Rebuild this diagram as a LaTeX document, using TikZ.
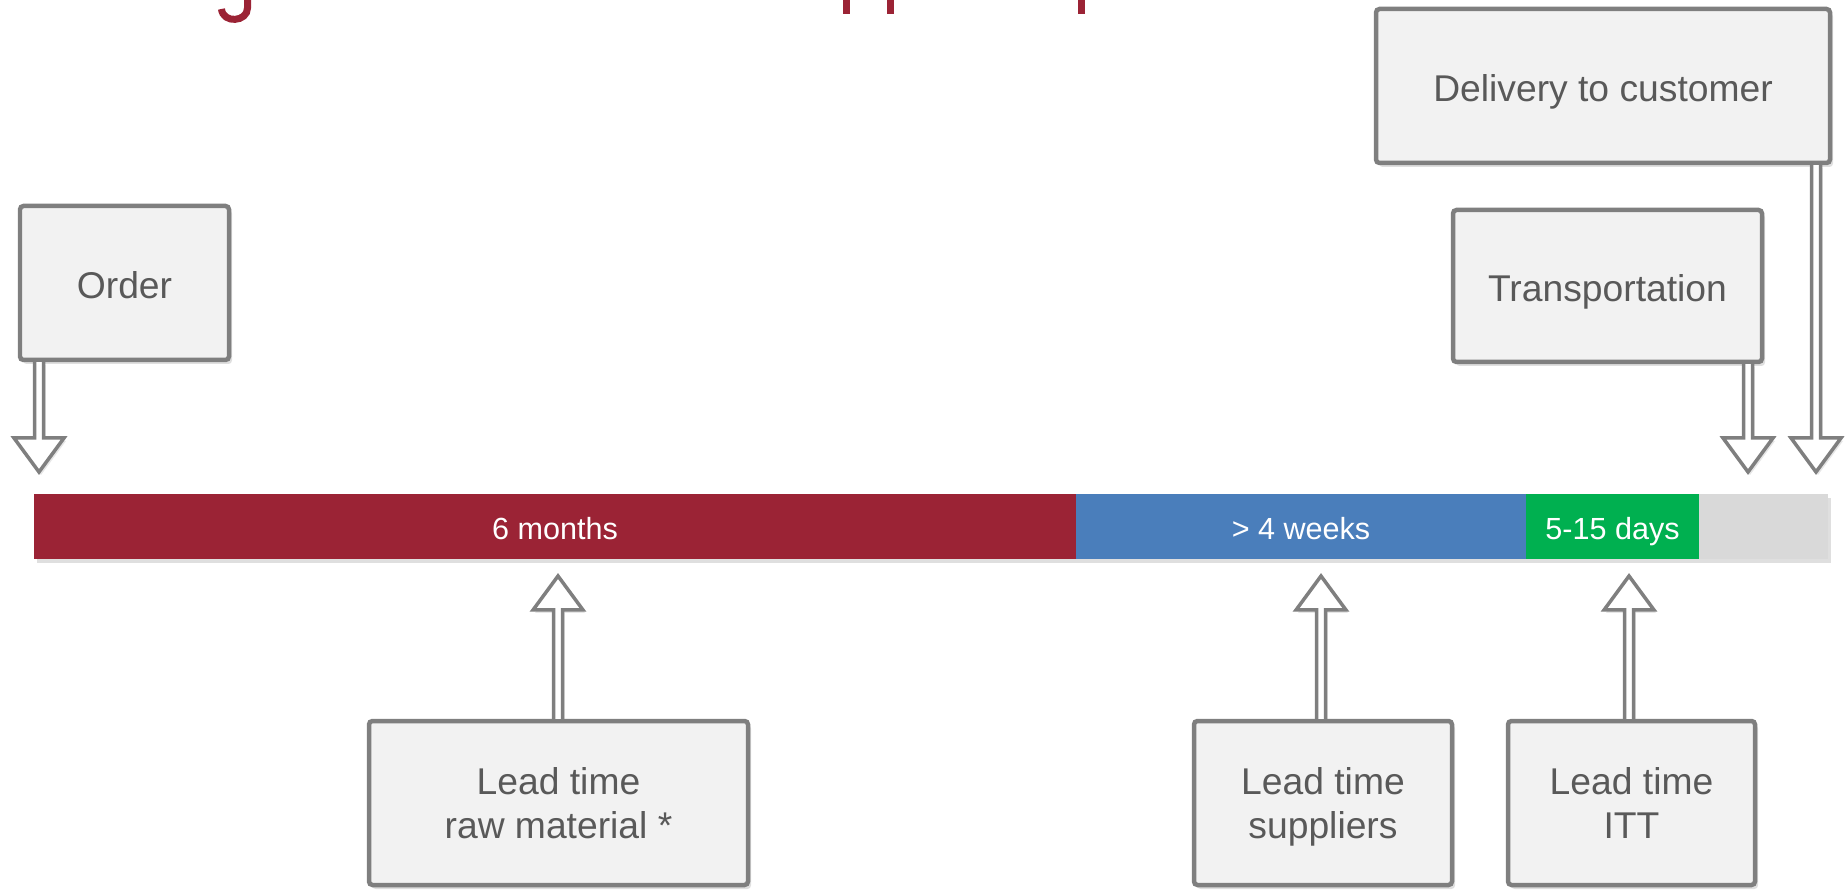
\documentclass[tikz,border=0pt]{standalone}
\usepackage{fontspec}
\setmainfont{Liberation Sans}
\usetikzlibrary{positioning,calc,shadows}
\definecolor{barred}{HTML}{9B2335}
\definecolor{barblue}{HTML}{4A7EBB}
\definecolor{bargreen}{HTML}{00B050}
\definecolor{bargray}{HTML}{D9D9D9}
\definecolor{boxfill}{HTML}{F2F2F2}
\definecolor{boxline}{HTML}{7F7F7F}
\definecolor{boxtext}{HTML}{595959}
\newcommand{\topstrut}{\rule{0pt}{8.56pt}}
\tikzset{
  infobox/.style={draw=boxline, line width=0.045cm, fill=boxfill, rounded corners=1pt,
    text=boxtext, font=\fontsize{10.6}{12.8}\selectfont, align=center, inner sep=0pt,
    execute at begin node=\topstrut, text depth=0pt,
    drop shadow={opacity=0.25, shadow xshift=0.03cm, shadow yshift=-0.04cm}},
  seg/.style={minimum height=0.65cm, inner sep=0pt, outer sep=0pt, text=white,
    text height=0.28cm, text depth=0.02cm, font=\fontsize{8.7}{10}\selectfont},
  hollow/.style={draw=boxline, line width=0.035cm, fill=white, line join=miter,
    drop shadow={opacity=0.2, shadow xshift=0.02cm, shadow yshift=-0.03cm},
    to path={let \p1=(\tikztostart), \p2=(\tikztotarget), \n1={(\y2>\y1)*2-1} in
      ({\x2-0.045cm},\y1) -- ({\x2-0.045cm},{\y2-\n1*0.34cm})
      -- ({\x2-0.25cm},{\y2-\n1*0.34cm}) -- (\p2)
      -- ({\x2+0.25cm},{\y2-\n1*0.34cm}) -- ({\x2+0.045cm},{\y2-\n1*0.34cm})
      -- ({\x2+0.045cm},\y1)}}
}
\begin{document}
\begin{tikzpicture}
  \useasboundingbox (0,0) rectangle (18.48,-8.90);
  \fill[barred] (8.43,0) rectangle (8.50,-0.14);
  \fill[barred] (8.87,0) rectangle (8.94,-0.14);
  \fill[barred] (10.78,0) rectangle (10.85,-0.14);
  \draw[barred, line width=0.07cm] (2.475,0) -- (2.475,-0.08)
    .. controls (2.475,-0.22) and (2.23,-0.24) .. (2.215,-0.09);

  \path[drop shadow={opacity=0.25, shadow xshift=0.03cm, shadow yshift=-0.04cm}]
    (0.34,-4.94) rectangle (18.28,-5.59);
  \node[seg, fill=barred, minimum width=10.42cm, anchor=north west] (months) at (0.34,-4.94) {6 months};
  \node[seg, fill=barblue, minimum width=4.50cm, right=0pt of months] (weeks) {> 4 weeks};
  \node[seg, fill=bargreen, minimum width=1.73cm, right=0pt of weeks] (days) {5-15 days};
  \node[seg, fill=bargray, minimum width=1.29cm, right=0pt of days] (rest) {};

  \node[infobox, minimum width=2.09cm, minimum height=1.54cm] (order) at (1.245,-2.83) {Order};
  \node[infobox, minimum width=4.54cm, minimum height=1.54cm] (delivery) at (16.03,-0.86) {Delivery to customer};
  \node[infobox, minimum width=3.09cm, minimum height=1.52cm] (transport) at (16.075,-2.86) {Transportation};
  \node[infobox, minimum width=3.79cm, minimum height=1.64cm] (rawlt) at (5.585,-8.03) {Lead time\\raw material *};
  \node[infobox, minimum width=2.58cm, minimum height=1.64cm] (suplt) at (13.23,-8.03) {Lead time\\suppliers};
  \node[infobox, minimum width=2.47cm, minimum height=1.64cm] (ittlt) at (16.315,-8.03) {Lead time\\ITT};

  \coordinate (ordertip) at (0.39,-4.72);
  \coordinate (transtip) at (17.48,-4.72);
  \coordinate (delivtip) at (18.16,-4.72);
  \coordinate (rawtip) at (5.58,-5.76);
  \coordinate (suptip) at (13.21,-5.76);
  \coordinate (itttip) at (16.29,-5.76);

  \draw[hollow] (order.south -| ordertip) to (ordertip);
  \draw[hollow] (transport.south -| transtip) to (transtip);
  \draw[hollow] (delivery.south -| delivtip) to (delivtip);
  \draw[hollow] (rawlt.north -| rawtip) to (rawtip);
  \draw[hollow] (suplt.north -| suptip) to (suptip);
  \draw[hollow] (ittlt.north -| itttip) to (itttip);
\end{tikzpicture}
\end{document}
